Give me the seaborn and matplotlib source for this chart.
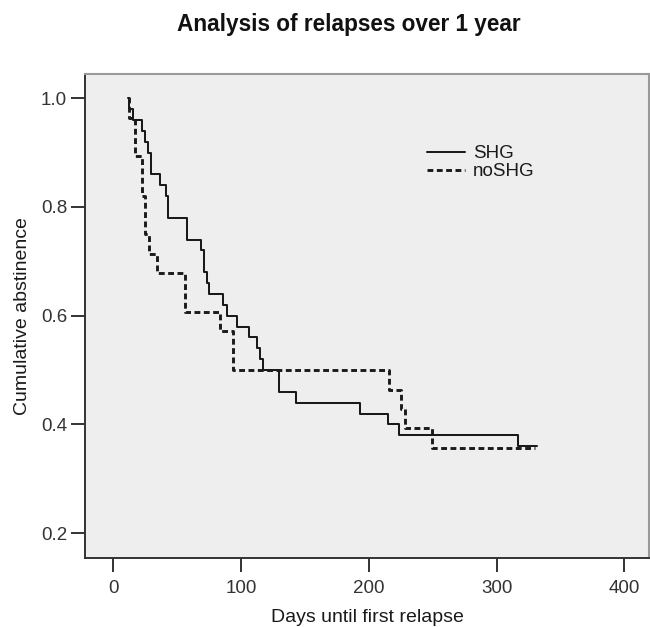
import pandas as pd
import seaborn as sns
import matplotlib.pyplot as plt

# Kaplan-Meier steps (day, cumulative abstinence after the step)
shg_days = [11.7, 12.5, 15.7, 22.2, 24.8, 27.4, 29.2, 36.5, 41.2, 43.1, 57.4, 68.4, 71.0,
            73.1, 75.2, 85.6, 88.8, 96.6, 106.5, 112.2, 114.8, 117.4, 129.5, 143.0, 193.1,
            215.3, 223.9, 316.5, 331.4]
shg_surv = [1.00, 0.98, 0.96, 0.94, 0.92, 0.90, 0.86, 0.84, 0.82, 0.78, 0.74, 0.72, 0.68,
            0.66, 0.64, 0.62, 0.60, 0.58, 0.56, 0.54, 0.52, 0.50, 0.46, 0.44, 0.42,
            0.40, 0.38, 0.36, 0.36]

noshg_days = [11.7, 12.3, 17.0, 22.7, 24.5, 28.2, 34.4, 56.1, 83.5, 93.4, 216.1, 225.0,
              228.3, 249.2, 330.0]
noshg_surv = [1.000, 0.964, 0.893, 0.821, 0.750, 0.714, 0.679, 0.607, 0.571, 0.500, 0.464,
              0.429, 0.393, 0.357, 0.357]

x_ticks = [0, 100, 200, 300, 400]
y_ticks = [0.2, 0.4, 0.6, 0.8, 1.0]


def main():
    sns.set_style("white")
    plt.rcParams['font.family'] = ['Liberation Sans', 'DejaVu Sans']

    shg = pd.DataFrame({"days": shg_days, "surv": shg_surv})
    noshg = pd.DataFrame({"days": noshg_days, "surv": noshg_surv})

    fig = plt.figure(figsize=(6.5, 6.27), dpi=100)
    ax = fig.add_axes([85.3 / 650, 1 - 557.7 / 627, (649 - 85.3) / 650, (557.7 - 74.3) / 627])
    ax.set_facecolor("#eeeeee")

    sns.lineplot(data=shg, x="days", y="surv", drawstyle="steps-post", estimator=None,
                 color="#1a1a1a", linewidth=1.45, ax=ax, label="SHG")
    sns.lineplot(data=noshg, x="days", y="surv", drawstyle="steps-post", estimator=None,
                 color="#1a1a1a", linewidth=2.1, linestyle=(0, (2.0, 1.2)), ax=ax, label="noSHG")

    ax.set_xlim(-21.9, 419.3)
    ax.set_ylim(0.155, 1.044)
    ax.set_xticks(x_ticks)
    ax.set_yticks(y_ticks)
    ax.tick_params(axis="both", which="major", length=10, width=1.4, color="#333333",
                   labelsize=13.5, labelcolor="#333333", direction="out")
    ax.tick_params(axis="x", pad=6)
    ax.tick_params(axis="y", pad=3)
    ax.tick_params(bottom=True, left=True)

    for side in ["left", "bottom"]:
        ax.spines[side].set_color("#333333")
        ax.spines[side].set_linewidth(1.4)
    for side in ["top", "right"]:
        ax.spines[side].set_color("#999999")
        ax.spines[side].set_linewidth(1.5)

    ax.set_xlabel("Days until first relapse", fontsize=14, color="#1a1a1a", labelpad=9)
    ax.set_ylabel("Cumulative abstinence", fontsize=14, color="#1a1a1a", labelpad=7)

    fig.text(349 / 650, 1 - 31 / 627, "Analysis of relapses over 1 year", fontsize=16.3,
             fontweight="bold", color="#111111", ha="center", va="baseline")

    ax.legend(loc="upper left", bbox_to_anchor=(427 / 650, 1 - 145 / 627),
              bbox_transform=fig.transFigure, frameon=False, fontsize=13.5,
              handlelength=2.03, handletextpad=0.43, labelspacing=0.05,
              borderpad=0, borderaxespad=0, labelcolor="#1a1a1a")

    fig.savefig("out.png", dpi=100)
    plt.close(fig)


if __name__ == "__main__":
    main()
